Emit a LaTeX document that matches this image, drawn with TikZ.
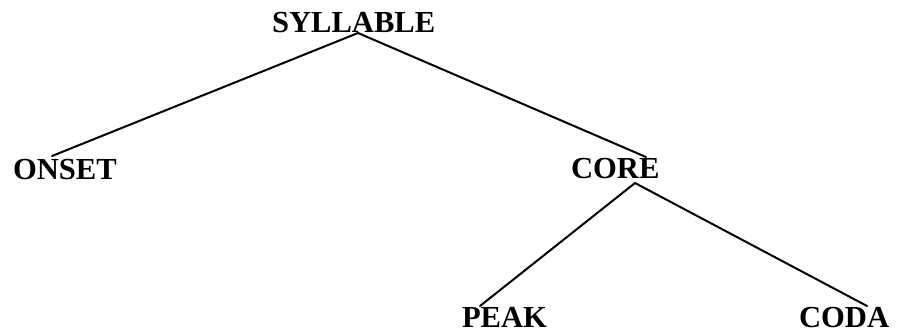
\documentclass[tikz,border=0pt]{standalone}
\usepackage{fontspec}
\setmainfont{Liberation Serif}
\begin{document}
\begin{tikzpicture}[x=1pt,y=-1pt,
  label/.style={anchor=base west,inner sep=0pt,outer sep=0pt,
    font=\fontsize{30.6}{36}\selectfont\bfseries},
  branch/.style={draw=black,line width=2pt,line cap=round}]
\useasboundingbox (0,0) rectangle (901,333);
% category labels
\node[label] (syllable) at (272,32) {SYLLABLE};
\node[label] (onset) at (13,179) {ONSET};
\node[label] (core) at (571,178) {CORE};
\node[label] (peak) at (462,327) {PEAK};
\node[label] (coda) at (799,327) {CODA};
% branching points
\coordinate (syl-root) at (358,33);
\coordinate (onset-top) at (52,156);
\coordinate (core-top) at (646,157);
\coordinate (core-root) at (635,183);
\coordinate (peak-top) at (480,306);
\coordinate (coda-top) at (867,306);
% tree branches
\draw[branch] (syl-root) -- (onset-top);
\draw[branch] (syl-root) -- (core-top);
\draw[branch] (core-root) -- (peak-top);
\draw[branch] (core-root) -- (coda-top);
\end{tikzpicture}
\end{document}
